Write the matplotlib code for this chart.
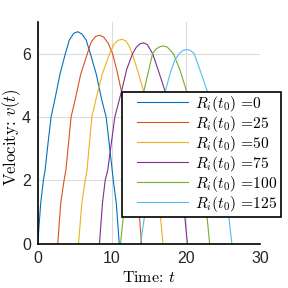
import matplotlib
matplotlib.use("Agg")
import matplotlib.pyplot as plt
from matplotlib.patches import Rectangle

# time / velocity samples for each launch offset
r_vals = [0, 25, 50, 75, 100, 125]

t_r0 = [0, 0.4, 0.76, 1.0, 1.4, 1.8, 2.35, 3.0, 3.73, 4.27, 4.86, 5.4, 5.95, 6.53, 7.1, 7.9, 8.64, 9.23, 9.7, 10.2, 10.6, 11.0]
v_r0 = [0, 1.28, 2.0, 2.33, 3.2, 4.0, 4.6, 5.35, 6.0, 6.43, 6.64, 6.69, 6.62, 6.43, 6.0, 5.35, 4.54, 4.0, 3.05, 2.0, 1.28, 0]

t_r25 = [2.7, 3.1, 3.55, 3.8, 4.5, 5.1, 5.8, 6.7, 7.2, 7.8, 8.33, 8.9, 9.5, 10.1, 10.7, 11.35, 12.2, 13.2, 13.6, 14.0]
v_r25 = [0, 1.28, 2.0, 2.33, 4.0, 4.6, 5.35, 6.0, 6.36, 6.54, 6.58, 6.52, 6.33, 6.0, 5.45, 4.75, 4.0, 2.0, 1.28, 0]

t_r50 = [5.5, 5.95, 6.4, 6.65, 7.3, 7.9, 8.7, 9.7, 10.3, 10.85, 11.35, 11.9, 12.3, 12.75, 13.5, 14.3, 15.0, 15.9, 16.4, 16.9]
v_r50 = [0, 1.28, 2.0, 2.33, 4.0, 4.6, 5.35, 6.0, 6.3, 6.42, 6.45, 6.4, 6.25, 6.0, 5.45, 4.8, 4.0, 2.0, 1.28, 0]

t_r75 = [8.33, 8.73, 9.1, 9.45, 10.4, 11.35, 12.0, 12.8, 13.3, 13.8, 14.3, 14.8, 15.5, 16.3, 17.2, 18.0, 19.25, 19.7, 20.2]
v_r75 = [0, 1.28, 2.0, 2.33, 4.0, 4.85, 5.5, 6.0, 6.2, 6.31, 6.34, 6.28, 6.0, 5.45, 4.8, 4.0, 2.0, 1.2, 0]

t_r100 = [11.17, 11.5, 11.9, 12.3, 13.2, 14.3, 15.5, 16.0, 16.5, 17.0, 17.5, 18.3, 19.2, 20.1, 20.9, 22.0, 22.5, 22.85, 23.2]
v_r100 = [0, 0.76, 1.5, 2.2, 3.6, 4.8, 6.0, 6.15, 6.22, 6.24, 6.2, 6.0, 5.48, 4.8, 4.0, 2.3, 1.5, 0.85, 0]

t_r125 = [13.87, 14.4, 14.9, 15.5, 16.4, 17.2, 17.9, 18.5, 19.1, 19.6, 20.1, 20.6, 21.1, 21.9, 22.9, 23.7, 24.9, 25.4, 25.76, 26.2]
v_r125 = [0, 0.86, 1.6, 2.4, 3.7, 4.8, 5.4, 5.8, 6.0, 6.1, 6.13, 6.1, 6.0, 5.48, 4.8, 4.0, 2.3, 1.5, 0.9, 0]

curves = [(t_r0, v_r0), (t_r25, v_r25), (t_r50, v_r50),
          (t_r75, v_r75), (t_r100, v_r100), (t_r125, v_r125)]

# matlab default line colours
colours = ['#0072BD', '#D95319', '#EDB120', '#7E2F8E', '#77AC30', '#4DBEEE']

plt.rcParams.update({
   'mathtext.fontset': 'cm',
   'font.family': 'Liberation Sans',
   'axes.linewidth': 1.2,
})

fig = plt.figure(figsize=(2.88, 2.88), dpi=100)
ax = fig.add_axes([0.131, 0.153, 0.772, 0.771])

for (t, v), r, c in zip(curves, r_vals, colours):
   ax.plot(t, v, color=c, linewidth=0.8, label=r"$R_i(t_0)$ =" + str(r))

ax.set_xlim(0, 30)
ax.set_ylim(0, 7)
ax.set_xticks([0, 10, 20, 30])
ax.set_yticks([0, 2, 4, 6])
ax.grid(True, color='#dcdcdc', linewidth=0.8)
ax.set_axisbelow(True)
ax.spines['top'].set_visible(False)
ax.spines['right'].set_visible(False)
ax.tick_params(length=0, pad=5, labelsize=11.5, colors='#262626')

ax.set_xlabel(r"Time: $t$", family='cmr10', fontsize=11.5, labelpad=3)
ax.set_ylabel(r"Velocity: $v(t)$", family='cmr10', fontsize=12)
ax.yaxis.set_label_coords(-0.068, 0.482)

# legend box sticks out past the axes like the matlab one, so draw the frame by hand
box = Rectangle((0.4236, 0.2465), 0.552, 0.434, transform=fig.transFigure,
                facecolor='white', edgecolor='black', linewidth=1.2,
                clip_on=False, zorder=4.5)
ax.add_patch(box)

leg = ax.legend(loc='upper left', bbox_to_anchor=(0.4757, 0.674),
                bbox_transform=fig.transFigure, prop={'family': 'cmr10', 'size': 11.2},
                handlelength=3.3, labelspacing=0.0, borderpad=0.0,
                handletextpad=0.4, borderaxespad=0, frameon=False)

fig.savefig("out.png", dpi=100)
